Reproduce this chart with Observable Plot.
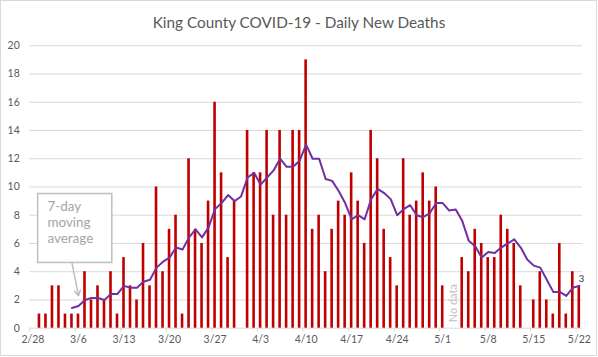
<!DOCTYPE html>
<html><head><meta charset="utf-8">
<script src="https://cdn.jsdelivr.net/npm/d3@7"></script>
<script src="https://cdn.jsdelivr.net/npm/@observablehq/plot@0.6"></script>
<style>
body{margin:0;background:#fff;}
#chart{position:relative;width:597px;height:356px;box-sizing:border-box;border:1px solid #d9d9d9;background:#fff;overflow:hidden;font-family:Lato,"Open Sans",sans-serif;}
#title{position:absolute;top:12px;left:-1px;width:598px;text-align:center;font-size:15.3px;color:#595959;white-space:nowrap;}
#plot{position:absolute;top:29px;left:-1px;}
</style></head><body>
<div id="chart"><div id="title">King County COVID-19 - Daily New Deaths</div><div id="plot"></div></div>
<script>
const days = ["2/28","2/29",
  "3/1","3/2","3/3","3/4","3/5","3/6","3/7","3/8","3/9","3/10","3/11","3/12","3/13","3/14","3/15","3/16",
  "3/17","3/18","3/19","3/20","3/21","3/22","3/23","3/24","3/25","3/26","3/27","3/28","3/29","3/30","3/31",
  "4/1","4/2","4/3","4/4","4/5","4/6","4/7","4/8","4/9","4/10","4/11","4/12","4/13","4/14","4/15",
  "4/16","4/17","4/18","4/19","4/20","4/21","4/22","4/23","4/24","4/25","4/26","4/27","4/28","4/29","4/30",
  "5/1","5/2","5/3","5/4","5/5","5/6","5/7","5/8","5/9","5/10","5/11","5/12","5/13","5/14","5/15",
  "5/16","5/17","5/18","5/19","5/20","5/21","5/22"];
const deaths = [0,1,
  1,3,3,1,1,1,4,2,3,2,4,1,5,3,2,6,3,10,4,7,8,1,12,7,6,9,16,11,5,9,null,
  14,11,11,14,8,14,8,14,14,19,7,8,4,7,9,8,11,9,6,14,12,7,5,3,12,8,9,11,9,10,
  3,null,null,5,4,7,6,5,5,8,7,6,3,0,2,4,2,1,6,1,4,3];
const movingAverage = [null,null,
  null,null,null,null,1.43,1.57,2.00,2.14,2.14,2.00,2.43,2.43,3.00,2.86,2.86,3.29,3.43,4.29,4.71,5.00,
  5.71,5.57,6.43,7.00,6.43,7.14,8.43,8.86,9.43,9.00,9.33,
  10.67,11.00,10.17,10.67,11.17,12.00,11.43,11.43,11.86,13.00,12.00,12.00,10.57,10.43,9.71,8.86,7.71,
  8.00,7.71,9.14,9.86,9.57,9.14,8.00,8.43,8.71,8.00,7.86,8.14,8.86,
  8.86,8.33,8.40,7.60,6.20,5.80,5.00,5.40,5.33,5.71,6.00,6.29,5.71,4.86,4.43,4.29,3.43,2.57,2.57,2.29,2.86,3.00];
const tickLabels = ["2/28","3/6","3/13","3/20","3/27","4/3","4/10","4/17","4/24","5/1","5/8","5/15","5/22"];
const yTicks = [0,2,4,6,8,10,12,14,16,18,20];
const noDataDays = ["5/2"];
const annotation = [{text:"7-day\nmoving\naverage", from:"2/29", to:"3/11", top:9.5, bottom:4.62, arrowFrom:"3/5", arrowTo:"3/6", arrowY:2.3}];

const data = days.map((d,i)=>({day:d, deaths:deaths[i], ma:movingAverage[i]}));
const last = data[data.length-1];
const gray = "#d9d9d9";

const chart = Plot.plot({
  width: 598, height: 327,
  marginLeft: 29.3, marginRight: 14, marginTop: 15.3, marginBottom: 28.3,
  style: {fontFamily: "Lato, 'Open Sans', sans-serif", fontSize: "10.5px", color: "#595959", background: "transparent"},
  x: {type: "band", domain: days, paddingInner: 0.6, paddingOuter: 0.3, axis: null},
  y: {domain: [0, 20], axis: null},
  marks: [
    Plot.gridY(yTicks, {stroke: gray, strokeOpacity: 1}),
    Plot.axisY(yTicks, {tickSize: 0, tickPadding: 10, label: null, fill: "#595959"}),
    Plot.axisX(tickLabels, {tickSize: 0, tickPadding: 7, label: null, fill: "#595959"}),
    Plot.ruleX(tickLabels, {x: d => d, y1: 0, y2: -0.28, dx: -3.26, stroke: gray}),
    Plot.barY(data.filter(d => d.deaths != null), {x: "day", y: "deaths", fill: "#c00000"}),
    Plot.lineY(data, {x: "day", y: "ma", stroke: "#7030a0", strokeWidth: 2, strokeLinejoin: "round"}),
    Plot.text([last], {x: "day", y: "ma", text: d => d3.format(".0f")(d.ma), dx: 2, dy: -7, fontSize: 10, fill: "#404040"}),
    Plot.text(noDataDays, {x: d => d, y: 0, text: () => "No data", rotate: -90, textAnchor: "start", dx: 4, dy: -6, fontSize: 11, fill: "#bfbfbf"}),
    Plot.rect(annotation, {x1: "from", x2: "to", y1: "bottom", y2: "top", fill: "white", stroke: "#bfbfbf", strokeWidth: 1.5}),
    Plot.text(annotation, {x: "from", y: "top", text: "text", textAnchor: "start", lineAnchor: "top", dx: 8, dy: 6, fontSize: 13.5, lineHeight: 1.18, fill: "#a6a6a6"}),
    Plot.arrow(annotation, {x1: "arrowFrom", x2: "arrowTo", y1: "bottom", y2: "arrowY", stroke: "#bfbfbf", strokeWidth: 1.5, headLength: 6, inset: 0})
  ]
});
document.getElementById("plot").appendChild(chart);
</script>
</body></html>
